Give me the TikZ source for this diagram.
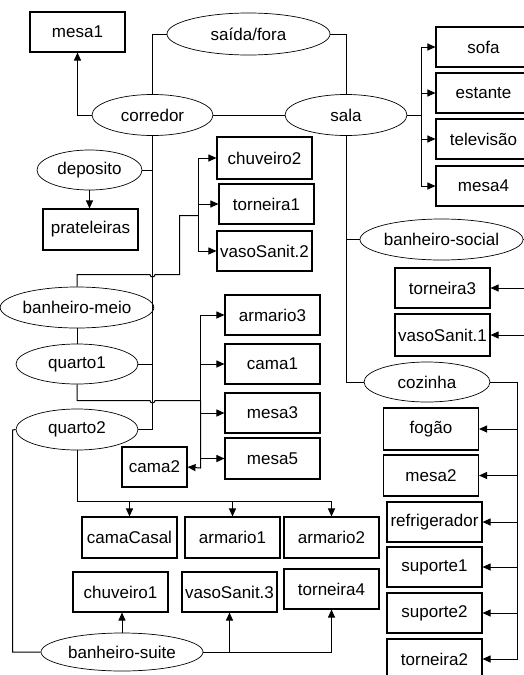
\documentclass[tikz,border=0pt]{standalone}
\usepackage{fontspec}
\setmainfont{Liberation Sans}
\usetikzlibrary{shapes.geometric,arrows.meta}
\begin{document}
\begin{tikzpicture}[x=1pt,y=-1pt,
  font=\fontsize{17}{19}\selectfont,
  room/.style={draw=black, line width=0.7pt, ellipse, inner sep=0pt},
  item/.style={draw=black, line width=1.1pt, rectangle, inner sep=0pt,
    minimum width=95pt, minimum height=40pt},
  link/.style={draw=black, line width=1pt},
  arr/.style={link, -{Triangle[length=8pt,width=7pt]}}]
\useasboundingbox (0,0) rectangle (523,675);

% rooms
\node[room, minimum width=163pt, minimum height=42pt] (saida) at (248.5,34) {saída/fora};
\node[room, minimum width=121pt, minimum height=41pt] (corredor) at (152.5,115) {corredor};
\node[room, minimum width=122pt, minimum height=41pt] (sala) at (346,115) {sala};
\node[room, minimum width=105pt, minimum height=40pt] (deposito) at (89.5,170) {deposito};
\node[room, minimum width=122pt, minimum height=41pt] (bmeio) at (77,307.5) {banheiro-meio};
\node[room, minimum width=122pt, minimum height=40pt] (quarto1) at (77,364) {quarto1};
\node[room, minimum width=122pt, minimum height=41pt] (quarto2) at (77,429.5) {quarto2};
\node[room, minimum width=162pt, minimum height=38pt] (bsuite) at (122,652) {banheiro-suite};
\node[room, minimum width=143pt, minimum height=41pt] (bsocial) at (441.5,239.5) {banheiro-social};
\node[room, minimum width=126pt, minimum height=40pt] (cozinha) at (427,382) {cozinha};

% furniture
\node[item] (mesa1) at (77.5,32) {mesa1};
\node[item, minimum height=41pt] (prateleiras) at (90.5,229.5) {prateleiras};
\node[item, minimum height=42pt] (chuveiro2) at (264.5,158) {chuveiro2};
\node[item] (torneira1) at (266.5,204) {torneira1};
\node[item] (vaso2) at (264.5,251) {vasoSanit.2};
\node[item] (armario3) at (272.5,315) {armario3};
\node[item] (cama1) at (272.5,364) {cama1};
\node[item] (mesa3) at (272.5,413) {mesa3};
\node[item, minimum height=41pt] (mesa5) at (272.5,458.5) {mesa5};
\node[item, minimum width=65pt] (cama2) at (154.5,467) {cama2};
\node[item, minimum height=41pt] (camacasal) at (129.5,537.5) {camaCasal};
\node[item, minimum height=41pt] (armario1) at (232.5,537.5) {armario1};
\node[item, minimum height=41pt] (armario2) at (331.5,537.5) {armario2};
\node[item] (chuveiro1) at (120.5,592) {chuveiro1};
\node[item] (vaso3) at (229.5,592) {vasoSanit.3};
\node[item] (torneira4) at (331.5,589) {torneira4};
\node[item] (sofa) at (483.5,47) {sofa};
\node[item] (estante) at (483.5,93) {estante};
\node[item] (tv) at (483.5,139) {televisão};
\node[item] (mesa4) at (483.5,186) {mesa4};
\node[item] (torneira3) at (442.5,288) {torneira3};
\node[item, minimum height=42pt] (vaso1) at (442.5,335) {vasoSanit.1};
\node[item, minimum height=42pt] (fogao) at (431,429) {fogão};
\node[item, minimum height=41pt] (mesa2) at (431,475.5) {mesa2};
\node[item] (refrig) at (434.5,522) {refrigerador};
\node[item] (suporte1) at (434.5,567) {suporte1};
\node[item] (suporte2) at (434.5,613) {suporte2};
\node[item] (torneira2) at (434.5,659) {torneira2};

% junction points
\coordinate (salaj) at (421.5,115);
\coordinate (bmeioA) at (77,274.5);
\coordinate (bmeioH1) at (150,274.5);
\coordinate (bmeioB) at (179.5,274.5);
\coordinate (bmeioC) at (179.5,215.5);
\coordinate (bmeioj) at (198.5,215.5);
\coordinate (q1A) at (77,400.5);
\coordinate (q1H1) at (150,400.5);
\coordinate (q1j) at (200.5,400.5);
\coordinate (q1low) at (200.5,468);
\coordinate (q2j) at (77,501.5);
\coordinate (q2w) at (12.5,430);
\coordinate (q2s) at (12.5,652);
\coordinate (suitej) at (229.5,652);
\coordinate (socialj) at (530,239.5);
\coordinate (cozj) at (517.5,382);

% corridor and living room
\draw[arr] (corredor.west) -| (mesa1.south);
\draw[link] (saida.west) -| (corredor.north);
\draw[link] (saida.east) -| (sala.north);
\draw[link] (corredor.east) -- (sala.west);
\draw[link] (sala.east) -- (salaj);
\foreach \t in {sofa,estante,tv,mesa4} \draw[arr] (salaj) |- (\t.west);

% corridor trunk
\draw[link] (corredor.south) |- (quarto2.east);
\draw[link] (deposito.east) -- (deposito.east -| corredor.south);
\draw[link] (bmeio.east) -- (bmeio.east -| corredor.south);
\draw[link] (quarto1.east) -- (quarto1.east -| corredor.south);
\draw[arr] (deposito.south) -- (deposito.south |- prateleiras.north);

% banheiro-meio
\draw[link] (bmeio.north) -- (bmeioA) -- (bmeioH1)
  arc[start angle=180, end angle=360, radius=2.5pt] -- (bmeioB) -- (bmeioC) -- (bmeioj);
\foreach \t in {chuveiro2,torneira1,vaso2} \draw[arr] (bmeioj) |- (\t.west);
\draw[link] (bmeio.south) -- (quarto1.north);

% quarto1
\draw[link] (quarto1.south) -- (q1A) -- (q1H1)
  arc[start angle=180, end angle=360, radius=2.5pt] -- (q1j);
\foreach \t in {armario3,cama1,mesa3,mesa5} \draw[arr] (q1j) |- (\t.west);
\draw[arr] (q1j) -- (q1low) -- (cama2.east);

% quarto2
\draw[link] (quarto2.south) -- (q2j);
\draw[arr] (q2j) -| (armario2.north);
\draw[arr] (q2j -| camacasal.north) -- (camacasal.north);
\draw[arr] (q2j -| armario1.north) -- (armario1.north);
\draw[link] (quarto2.west) -- (q2w) -- (q2s) -- (bsuite.west);

% banheiro-suite
\draw[arr] (bsuite.north) -- (bsuite.north |- chuveiro1.south);
\draw[arr] (bsuite.east) -| (torneira4.south);
\draw[arr] (suitej) -- (vaso3.south -| suitej);

% sala trunk
\draw[link] (sala.south) |- (cozinha.west);
\draw[link] (bsocial.west) -- (bsocial.west -| sala.south);

% banheiro-social
\draw[link] (bsocial.east) -- (socialj);
\draw[arr] (socialj) |- (torneira3.east);
\draw[arr] (socialj) |- (vaso1.east);

% cozinha
\draw[link] (cozinha.east) -- (cozj);
\foreach \t in {fogao,mesa2,refrig,suporte1,suporte2,torneira2} \draw[arr] (cozj) |- (\t.east);
\end{tikzpicture}
\end{document}
